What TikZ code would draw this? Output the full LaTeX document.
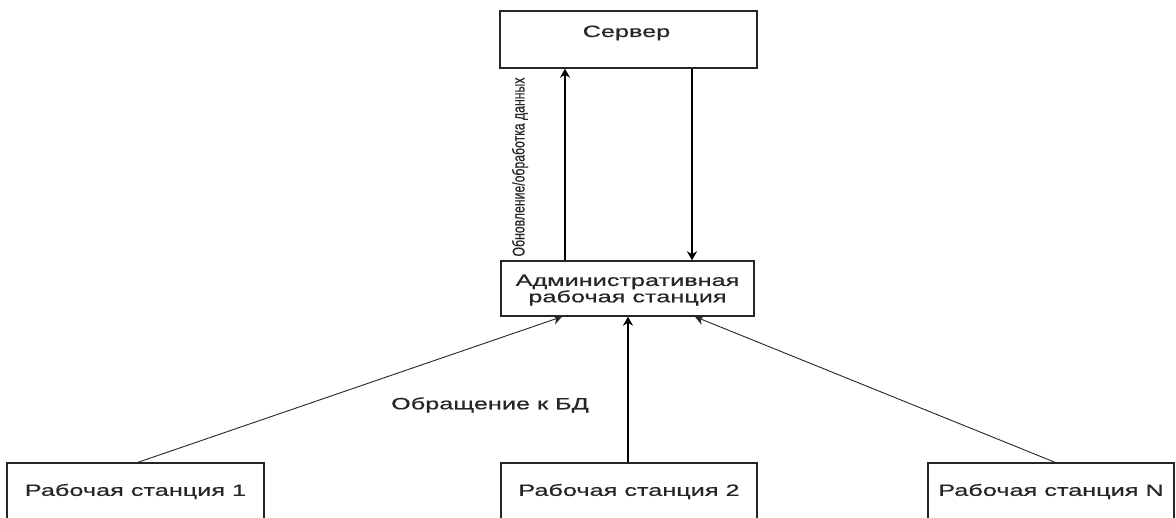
\documentclass[tikz,border=0pt]{standalone}
\usepackage{fontspec}
\setmainfont{Liberation Sans}
\newfontfamily\widefont[FakeStretch=1.55,FakeBold=0.6]{Liberation Sans}
\newfontfamily\narrowfont[FakeStretch=0.72,FakeBold=0.4]{Liberation Sans}
\usetikzlibrary{arrows.meta}
\begin{document}
\begin{tikzpicture}[x=1pt,y=-1pt,
  box/.style={draw=black!85,line width=1.4pt,fill=white,inner sep=0pt},
  txt/.style={font=\widefont\fontsize{16.3}{15}\selectfont,text=black!85,inner sep=0pt,align=center},
  arr/.style={draw=black,line width=1.6pt,-{Stealth[length=9pt,width=10pt]}},
  thinarr/.style={draw=black!85,line width=0.9pt,-{Stealth[length=9pt,width=10pt]}}]
\useasboundingbox (0,0) rectangle (1176,518);
\clip (0,0) rectangle (1176,518);
\fill[white] (0,0) rectangle (1176,518);
% boxes
\node[box,minimum width=257pt,minimum height=57pt] (server) at (628.5,39.5) {};
\node[txt] (servertxt) at (626.5,33) {Сервер};
\node[box,minimum width=253pt,minimum height=55pt,txt,text depth=-2pt] (admin) at (627.5,288.5) {Административная\\рабочая станция};
\node[box,minimum width=257pt,minimum height=57pt,txt] (ws1) at (135.5,491.5) {Рабочая станция 1};
\node[box,minimum width=256pt,minimum height=57pt,txt] (ws2) at (629,491.5) {Рабочая станция 2};
\node[box,minimum width=246pt,minimum height=57pt,txt] (wsN) at (1051,491.5) {Рабочая станция N};
% connectors
\draw[arr] (admin.north -| 565,0) -- (server.south -| 565,0);
\draw[arr] (server.south -| 692,0) -- (admin.north -| 692,0);
\draw[thinarr] (ws1.north -| 138,0) -- (admin.south -| 562,0);
\draw[arr] (ws2.north -| 628,0) -- (admin.south -| 628,0);
\draw[thinarr] (wsN.north -| 1055,0) -- (admin.south -| 695,0);
% labels
\node[font=\narrowfont\fontsize{17}{17}\selectfont,text=black!85,rotate=90,inner sep=0pt] (lblupd) at (520,167) {Обновление/обработка данных};
\node[txt] (lbldb) at (490,405) {Обращение к БД};
\end{tikzpicture}
\end{document}
